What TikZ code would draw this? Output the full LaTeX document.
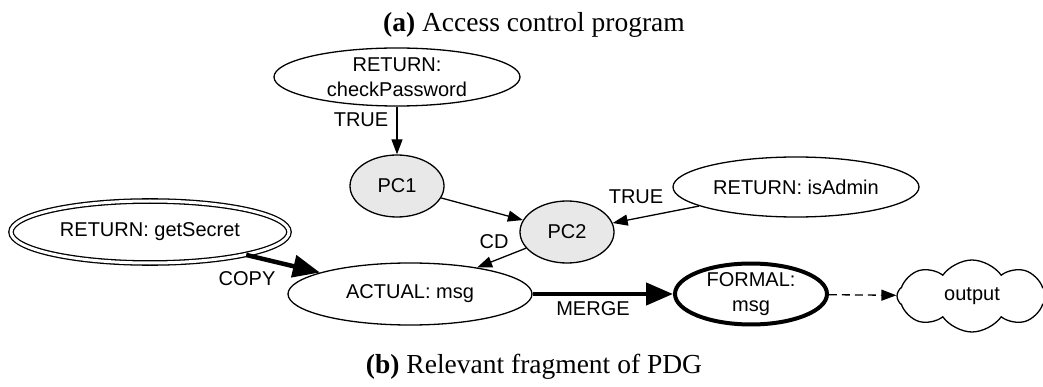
\documentclass[tikz,border=0pt]{standalone}
\usepackage{fontspec}
\setmainfont{Liberation Serif}
\newfontfamily\helv{Liberation Sans}
\usetikzlibrary{shapes.geometric,shapes.symbols,arrows.meta}
\definecolor{pcfill}{RGB}{232,232,232}

\begin{document}
\begin{tikzpicture}[x=1pt,y=-1pt,
  every node/.style={font=\helv\fontsize{20}{25}\selectfont},
  st/.style={ellipse,draw,line width=1.3pt,inner sep=0pt,align=center},
  pc/.style={st,fill=pcfill,minimum width=94pt,minimum height=62pt},
  lbl/.style={inner sep=0pt},
  captxt/.style={inner sep=0pt,font=\rmfamily\fontsize{27.5}{32}\selectfont},
  thinarrow/.style={line width=1.3pt,-{Triangle[length=15pt,width=11pt]}},
  heavyarrow/.style={line width=4.5pt,-{Triangle[length=27pt,width=22pt]}},
  dasharrow/.style={line width=1.3pt,dash pattern=on 8pt off 5pt,-{Triangle[length=15pt,width=11pt]}}
]
\useasboundingbox (0,0) rectangle (1043,387);

% captions
\node[captxt] (capA) at (534,25) {\textbf{(a)} Access control program};
\node[captxt] (capB) at (534,367) {\textbf{(b)} Relevant fragment of PDG};

% graph nodes
\node[st,minimum width=246pt,minimum height=58pt] (chk) at (397,77) {RETURN:\\checkPassword};
\node[pc] (pc1) at (397,186) {PC1};
\node[pc] (pc2) at (567,232) {PC2};
\node[st,minimum width=246pt,minimum height=60pt] (adm) at (796,187) {RETURN: isAdmin};
\node[st,double,double distance=3pt,minimum width=278pt,minimum height=62pt] (sec) at (150,232) {RETURN: getSecret};
\node[st,minimum width=244pt,minimum height=62pt] (act) at (410,294) {ACTUAL: msg};
\node[st,line width=4pt,minimum width=152pt,minimum height=60pt] (frm) at (751,294) {FORMAL:\\msg};
\node[cloud,draw,line width=1.3pt,cloud puffs=8,cloud puff arc=110,aspect=2,inner sep=0pt,
      minimum width=150pt,minimum height=72pt] (out) at (972,296) {output};

% edges
\draw[thinarrow] (chk) -- (pc1);
\draw[thinarrow] (pc1) -- (pc2);
\draw[thinarrow] (adm) -- (pc2);
\draw[thinarrow] (pc2) -- (act);
\draw[heavyarrow] (sec) -- (act);
\draw[heavyarrow] (act) -- (frm);
\draw[dasharrow] (frm) -- (out);

% edge labels
\node[lbl] (lTrueA) at (361,120) {TRUE};
\node[lbl] (lTrueB) at (636,197) {TRUE};
\node[lbl] (lCD) at (494,242) {CD};
\node[lbl] (lCopy) at (247,279) {COPY};
\node[lbl] (lMerge) at (593,309) {MERGE};
\end{tikzpicture}
\end{document}
